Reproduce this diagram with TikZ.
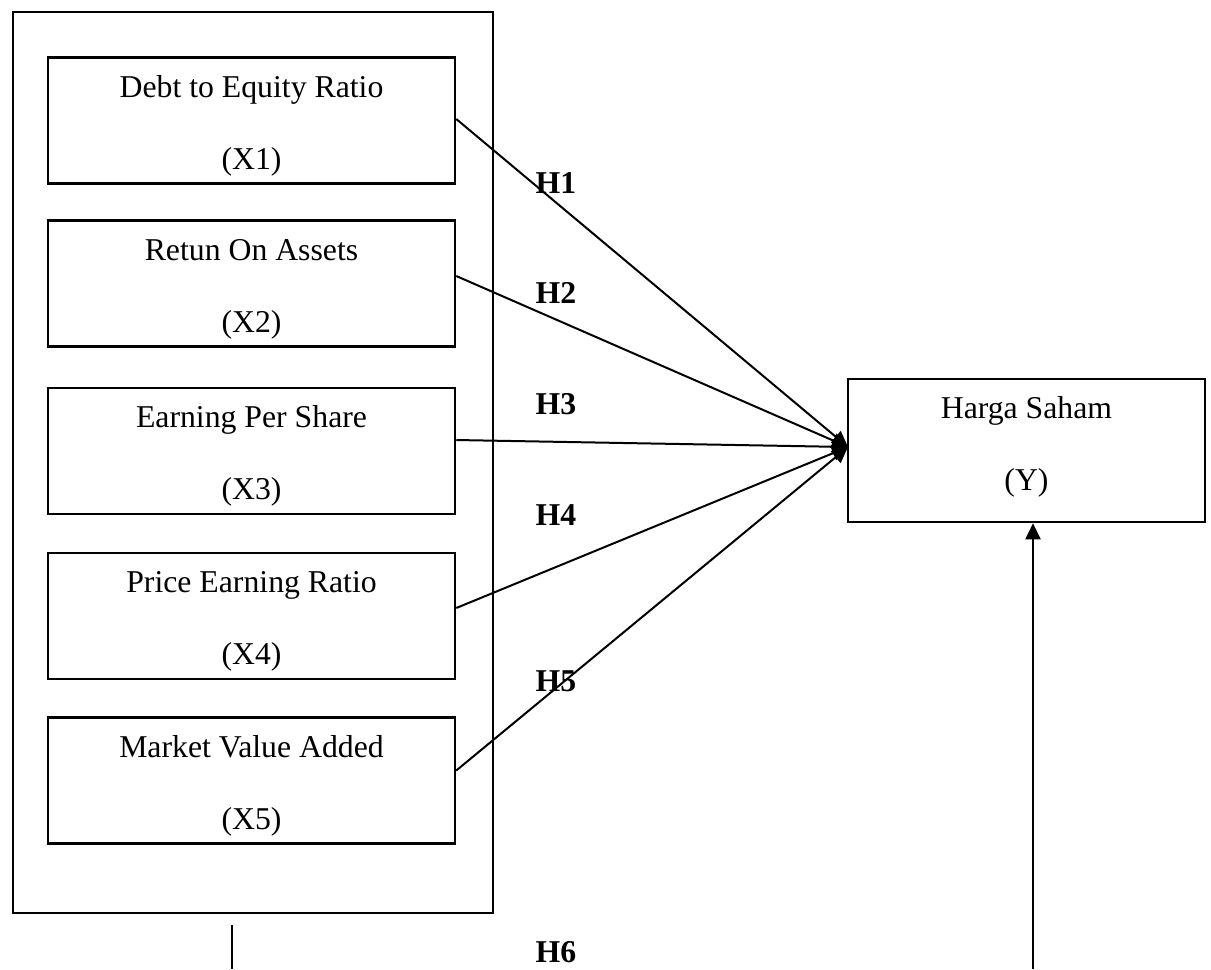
\documentclass[tikz,border=0pt]{standalone}
\usepackage{fontspec}
\setmainfont{Liberation Serif}
\usetikzlibrary{arrows.meta,calc}
\begin{document}
\begin{tikzpicture}[x=0.4pt,y=-0.4pt,
  box/.style={draw,line width=1pt,minimum width=162.8pt,minimum height=50.4pt,inner sep=0pt},
  txt/.style={anchor=base,inner sep=0pt,font=\fontsize{12.7}{15}\selectfont},
  hyp/.style={font=\fontsize{12.7}{15}\selectfont\bfseries,inner sep=0pt},
  conn/.style={line width=0.8pt,-{Triangle[length=6.4pt,width=6pt]}},
  plain/.style={line width=0.8pt}]
\useasboundingbox (0,0) rectangle (1211,969);
\node[draw,line width=1pt,minimum width=192pt,minimum height=360.4pt,inner sep=0pt] (outer) at (253,462.5) {};
% inner boxes
\node[box] (b1) at (251.5,120.5) {};
\node[box] (b2) at (251.5,283.5) {};
\node[box] (b3) at (251.5,451) {};
\node[box] (b4) at (251.5,616) {};
\node[box] (b5) at (251.5,780.5) {};
\node[box,minimum width=142.8pt,minimum height=57.2pt] (y) at (1026.5,450.5) {};
% texts
\node[txt] (t1a) at ([yshift=-16.4pt]b1.north) {Debt to Equity Ratio};
\node[txt] (t1b) at ([yshift=-45.2pt]b1.north) {(X1)};
\node[txt] (t2a) at ([yshift=-16.4pt]b2.north) {Retun On Assets};
\node[txt] (t2b) at ([yshift=-45.2pt]b2.north) {(X2)};
\node[txt] (t3a) at ([yshift=-16.4pt]b3.north) {Earning Per Share};
\node[txt] (t3b) at ([yshift=-45.2pt]b3.north) {(X3)};
\node[txt] (t4a) at ([yshift=-16.4pt]b4.north) {Price Earning Ratio};
\node[txt] (t4b) at ([yshift=-45.2pt]b4.north) {(X4)};
\node[txt] (t5a) at ([yshift=-16.4pt]b5.north) {Market Value Added};
\node[txt] (t5b) at ([yshift=-45.2pt]b5.north) {(X5)};
\node[txt] (tya) at ([yshift=-16.4pt]y.north) {Harga Saham};
\node[txt] (tyb) at ([yshift=-45.2pt]y.north) {(Y)};
% connectors
\coordinate (tip) at (848,447);
\draw[conn] ([yshift=0.6pt]b1.east) -- (tip);
\draw[conn] ([yshift=3pt]b2.east) -- (tip);
\draw[conn] ([yshift=4.4pt]b3.east) -- (tip);
\draw[conn] ([yshift=3.2pt]b4.east) -- (tip);
\draw[conn] ([yshift=4pt]b5.east) -- (tip);
\node[hyp] (h1) at (556,183) {H1};
\node[hyp] (h2) at (556,293) {H2};
\node[hyp] (h3) at (556,404) {H3};
\node[hyp] (h4) at (556,515) {H4};
\node[hyp] (h5) at (556,681) {H5};
\node[hyp] (h6) at (556,952) {H6};
\coordinate (s1) at (232,925);
\coordinate (s2) at (232,969);
\draw[plain] (s1) -- (s2);
\coordinate (u1) at (1033,969);
\draw[conn] (u1) -- (y.south -| u1);
\end{tikzpicture}
\end{document}
